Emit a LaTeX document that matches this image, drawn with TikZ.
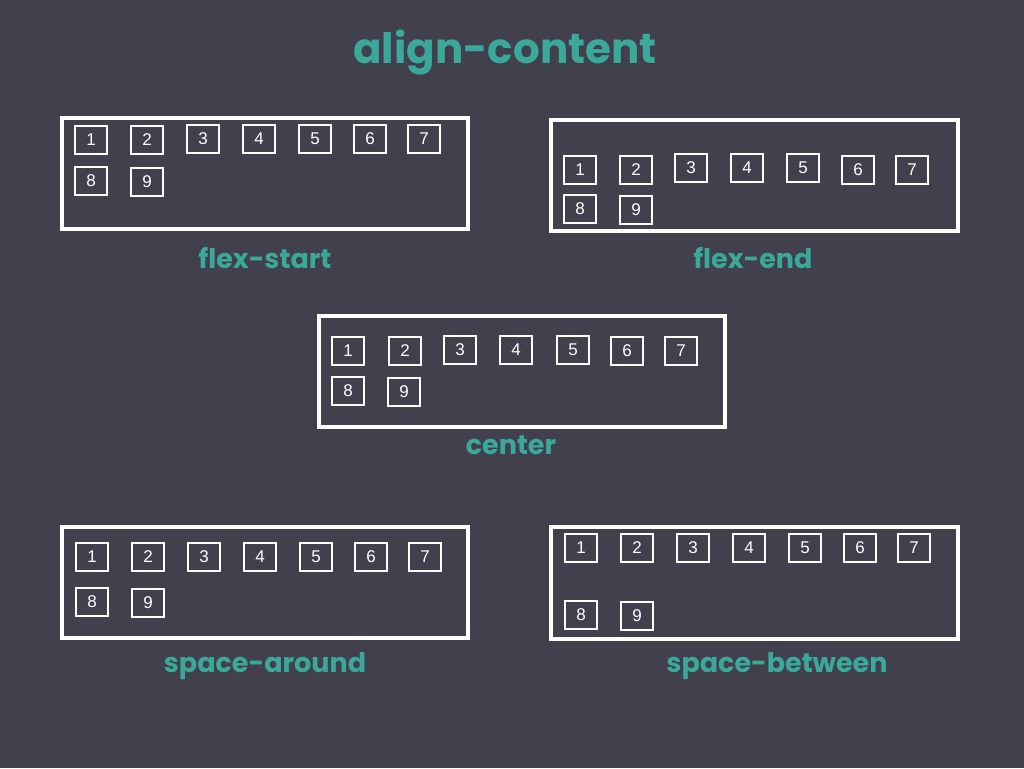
\documentclass[tikz,border=0pt]{standalone}
\usepackage{fontspec}
\setmainfont{Poppins}
\newfontfamily\numfont{Liberation Sans}
\definecolor{bg}{HTML}{41404C}
\definecolor{teal}{HTML}{3AA89A}
\begin{document}
\begin{tikzpicture}[x=1pt,y=-1pt,
  big/.style={draw=white,line width=3.5pt},
  item/.style={draw=white,line width=1.8pt,minimum width=32pt,minimum height=28pt,inner sep=0pt,text=white,font=\numfont\fontsize{17}{17}\selectfont},
  lab/.style={text=teal,font=\bfseries\fontsize{27}{27}\selectfont}]
\fill[bg] (0,0) rectangle (1024,768);
\useasboundingbox (0,0) rectangle (1024,768);
\node[text=teal,font=\bfseries\fontsize{42}{42}\selectfont] (title) at (505,52) {align-content};
\draw[big] (62,118) rectangle (468,229);
\draw[big] (551,120) rectangle (958,231);
\draw[big] (319,316) rectangle (725,427);
\draw[big] (62,527) rectangle (468,638);
\draw[big] (551,527) rectangle (958,639);
% box 1
\foreach \n/\x/\y in {1/91/140,2/147/140,3/203/139,4/259/139,5/315/139,6/370/139,7/424/139,8/91/181,9/147/182}
  \node[item] (a\n) at (\x,\y) {\n};
% box 2
\foreach \n/\x/\y in {1/580/170,2/636/170,3/691/168,4/747/168,5/803/168,6/858/170,7/912/170,8/580/209,9/636/210}
  \node[item] (b\n) at (\x,\y) {\n};
% box 3
\foreach \n/\x/\y in {1/348/351,2/405/351,3/460/350,4/516/350,5/573/350,6/627/351,7/681/351,8/348/391,9/404/392}
  \node[item] (c\n) at (\x,\y) {\n};
% box 4
\foreach \n/\x/\y in {1/92/557,2/148/557,3/204/557,4/260/557,5/316/557,6/371/557,7/425/557,8/92/602,9/148/603}
  \node[item] (d\n) at (\x,\y) {\n};
% box 5
\foreach \n/\x/\y in {1/581/548,2/637/548,3/693/548,4/749/548,5/805/548,6/860/548,7/914/548,8/581/615,9/637/616}
  \node[item] (e\n) at (\x,\y) {\n};
\node[lab] (l1) at (265,258) {flex-start};
\node[lab] (l2) at (753,258) {flex-end};
\node[lab] (l3) at (511,445) {center};
\node[lab] (l4) at (265,666) {space-around};
\node[lab] (l5) at (777,666) {space-between};
\end{tikzpicture}
\end{document}
